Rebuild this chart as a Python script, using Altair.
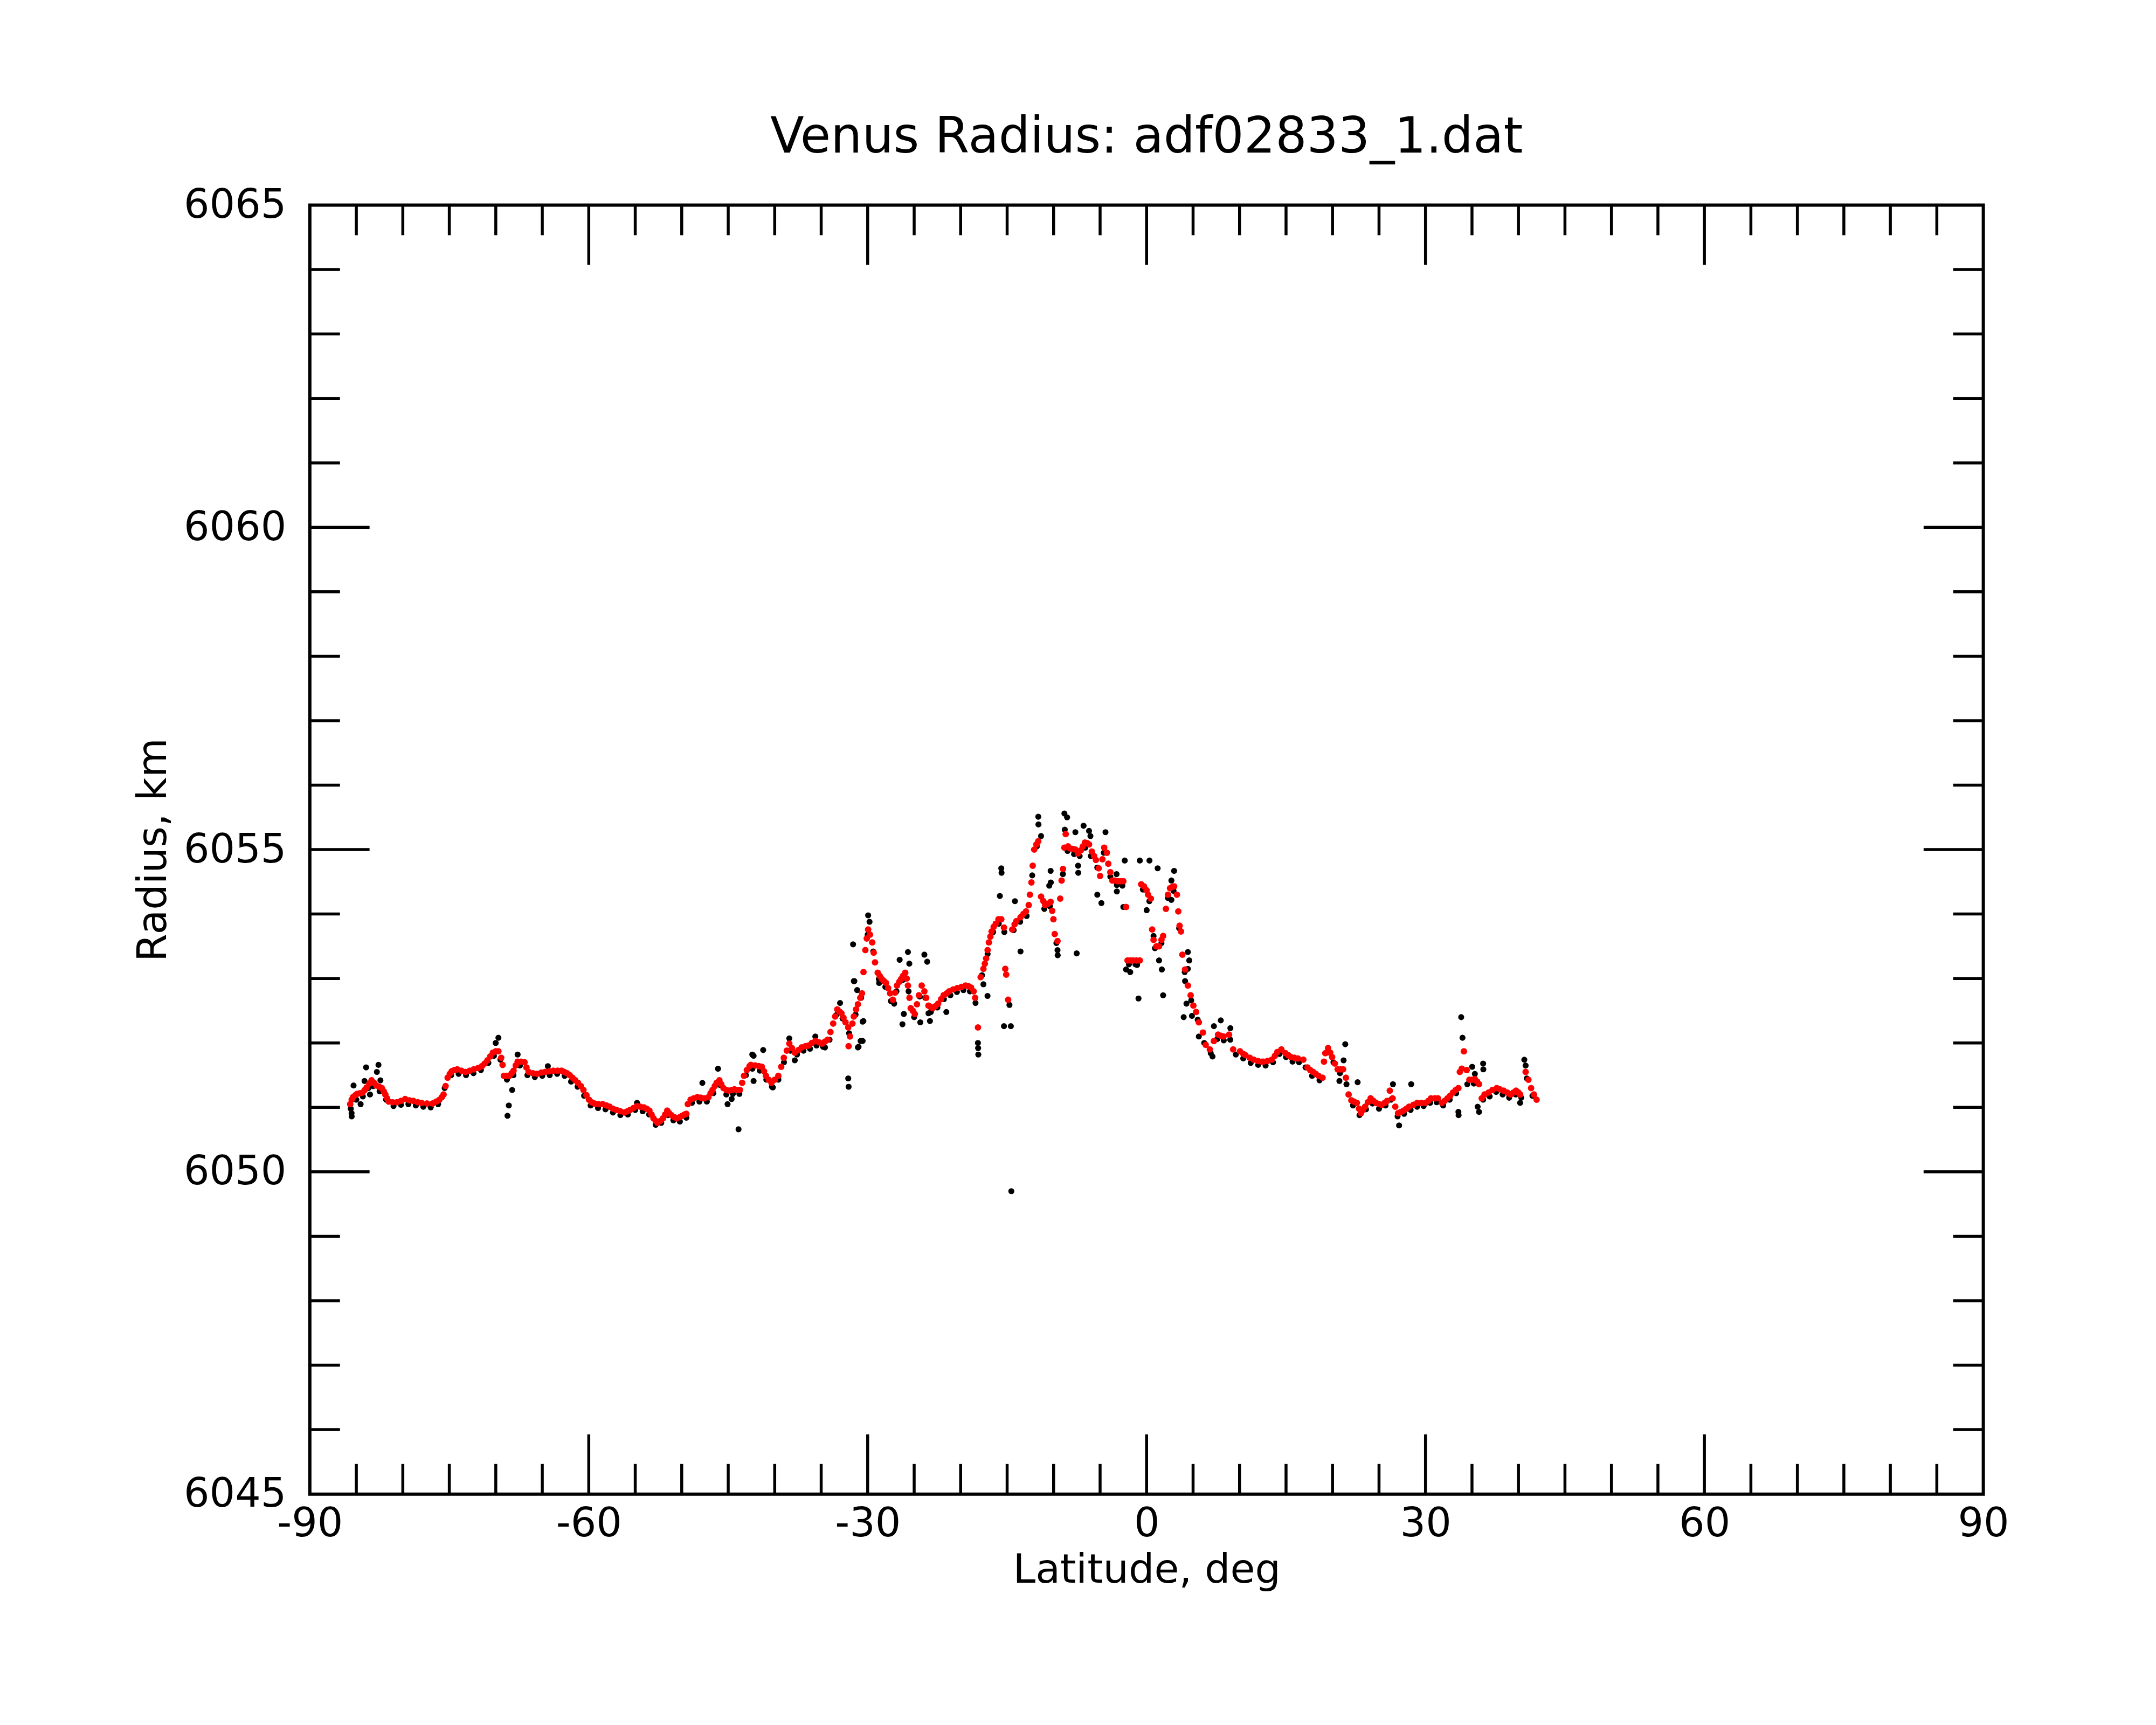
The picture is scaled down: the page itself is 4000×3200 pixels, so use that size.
import altair as alt
import pandas as pd

# ---------------- data ----------------
# red (smoothed) series, (latitude deg, radius km)
red_south = [
    (-85.66, 6051.05), (-85.5, 6051.12), (-85.36, 6051.16), (-85.1, 6051.19), (-84.92, 6051.21),
    (-84.6, 6051.22), (-84.33, 6051.23), (-84.1, 6051.27), (-83.89, 6051.31), (-83.6, 6051.37),
    (-83.36, 6051.42), (-83.1, 6051.38), (-82.85, 6051.34), (-82.55, 6051.32), (-82.26, 6051.30),
    (-82.05, 6051.25), (-81.88, 6051.20), (-81.7, 6051.14), (-81.52, 6051.09), (-81.1, 6051.08),
    (-80.64, 6051.08), (-80.2, 6051.10), (-79.75, 6051.13), (-79.3, 6051.11), (-78.87, 6051.10),
    (-78.4, 6051.08), (-77.98, 6051.07), (-77.4, 6051.06), (-76.8, 6051.06), (-76.4, 6051.09),
    (-76.06, 6051.12), (-75.8, 6051.16), (-75.62, 6051.20), (-75.4, 6051.33), (-75.18, 6051.46),
    (-74.95, 6051.52), (-74.74, 6051.56), (-74.45, 6051.58), (-74.15, 6051.59), (-73.7, 6051.57),
    (-73.26, 6051.55), (-72.8, 6051.57), (-72.37, 6051.59), (-71.9, 6051.61), (-71.49, 6051.64),
    (-71.2, 6051.68), (-70.9, 6051.73), (-70.6, 6051.79), (-70.31, 6051.85), (-70.0, 6051.87),
    (-69.72, 6051.87), (-69.42, 6051.77), (-69.27, 6051.66), (-69.13, 6051.49), (-68.85, 6051.49),
    (-68.54, 6051.49), (-68.3, 6051.53), (-68.09, 6051.57), (-67.85, 6051.65), (-67.65, 6051.71),
    (-67.3, 6051.71), (-66.91, 6051.70), (-66.7, 6051.62), (-66.47, 6051.55), (-66.0, 6051.53),
    (-65.58, 6051.52), (-65.1, 6051.54), (-64.7, 6051.55), (-64.25, 6051.56), (-63.81, 6051.57),
    (-63.35, 6051.57), (-62.93, 6051.57), (-62.64, 6051.55), (-62.34, 6051.53), (-62.05, 6051.50),
    (-61.75, 6051.46), (-61.45, 6051.42), (-61.16, 6051.38), (-60.85, 6051.33), (-60.57, 6051.27),
    (-60.25, 6051.19), (-59.98, 6051.12), (-59.7, 6051.08), (-59.39, 6051.06), (-58.95, 6051.05),
    (-58.5, 6051.05), (-58.1, 6051.03), (-57.76, 6051.01), (-57.4, 6050.98), (-57.02, 6050.96),
    (-56.6, 6050.94), (-56.14, 6050.92), (-55.85, 6050.94), (-55.55, 6050.96), (-55.2, 6050.99),
    (-54.81, 6051.02), (-54.45, 6051.01), (-54.07, 6051.00), (-53.78, 6050.98), (-53.48, 6050.95),
    (-53.25, 6050.89), (-53.04, 6050.83), (-52.8, 6050.79), (-52.6, 6050.76), (-52.3, 6050.79),
    (-52.01, 6050.83), (-51.78, 6050.89), (-51.56, 6050.95), (-51.35, 6050.91), (-51.12, 6050.88),
    (-50.8, 6050.85), (-50.53, 6050.83), (-50.2, 6050.85), (-49.94, 6050.87), (-49.7, 6050.89),
    (-49.5, 6050.90), (-49.35, 6051.05), (-49.05, 6051.12), (-48.7, 6051.14), (-48.32, 6051.16),
    (-47.95, 6051.15), (-47.58, 6051.14), (-47.13, 6051.16), (-46.9, 6051.22), (-46.69, 6051.27),
    (-46.45, 6051.33), (-46.25, 6051.38), (-45.95, 6051.42), (-45.75, 6051.36), (-45.51, 6051.30),
    (-45.2, 6051.27), (-44.92, 6051.26), (-44.6, 6051.27), (-44.33, 6051.28), (-44.0, 6051.27),
    (-43.74, 6051.27), (-43.5, 6051.38), (-43.3, 6051.49), (-43.0, 6051.58), (-42.71, 6051.64),
]
red_mid_south = [
    (-42.56, 6051.66), (-42.1, 6051.65), (-41.7, 6051.64), (-41.38, 6051.63), (-41.15, 6051.56),
    (-40.94, 6051.49), (-40.65, 6051.43), (-40.35, 6051.38), (-40.0, 6051.43), (-39.61, 6051.49),
    (-39.3, 6051.63), (-39.02, 6051.77), (-38.7, 6051.88), (-38.43, 6051.99), (-38.15, 6051.92),
    (-37.84, 6051.85), (-37.45, 6051.89), (-37.1, 6051.93), (-36.7, 6051.95), (-36.36, 6051.96),
    (-36.0, 6052.00), (-35.63, 6052.03), (-35.25, 6052.01), (-34.89, 6051.99), (-34.6, 6052.02),
    (-34.3, 6052.05), (-34.0, 6052.17), (-33.71, 6052.30), (-33.5, 6052.41), (-33.27, 6052.52),
    (-33.05, 6052.49), (-32.82, 6052.46), (-32.6, 6052.39), (-32.38, 6052.32), (-32.09, 6052.24),
    (-32.05, 6051.95), (-31.9, 6052.10), (-31.64, 6052.30), (-31.49, 6052.41), (-31.25, 6052.52),
    (-31.05, 6052.60), (-30.8, 6052.70), (-30.61, 6052.77),
]
red_equator = [
    (-30.45, 6053.10), (-30.25, 6053.44), (-30.1, 6053.62), (-29.95, 6053.76), (-29.75, 6053.68),
    (-29.51, 6053.56), (-29.35, 6053.40), (-29.21, 6053.25), (-28.92, 6053.09), (-28.7, 6053.04),
    (-28.47, 6052.99), (-28.25, 6052.96), (-28.03, 6052.93), (-27.8, 6052.85), (-27.59, 6052.77),
    (-27.29, 6052.67), (-27.05, 6052.78), (-26.85, 6052.89), (-26.6, 6052.95), (-26.41, 6052.99),
    (-26.2, 6053.04), (-25.96, 6053.09), (-25.8, 6053.00), (-25.67, 6052.89), (-25.5, 6052.70),
    (-25.37, 6052.54), (-25.15, 6052.50), (-24.93, 6052.45), (-24.7, 6052.60), (-24.49, 6052.74),
    (-24.19, 6052.89), (-23.9, 6052.80), (-23.7, 6052.70), (-23.46, 6052.58), (-23.25, 6052.56),
    (-23.01, 6052.54), (-22.7, 6052.57), (-22.42, 6052.61), (-22.1, 6052.68), (-21.83, 6052.74),
    (-21.5, 6052.77), (-21.24, 6052.80), (-20.8, 6052.83), (-20.36, 6052.85), (-19.9, 6052.87),
    (-19.47, 6052.89), (-19.15, 6052.88), (-18.88, 6052.86), (-18.6, 6052.80), (-18.44, 6052.70),
    (-18.14, 6052.24), (-17.85, 6053.02), (-17.55, 6053.15), (-17.4, 6053.23), (-17.26, 6053.31),
    (-17.1, 6053.44), (-16.96, 6053.56), (-16.8, 6053.65), (-16.67, 6053.73), (-16.45, 6053.80),
    (-16.22, 6053.85), (-15.93, 6053.92), (-15.63, 6053.92), (-15.34, 6053.79), (-15.2, 6053.15),
    (-15.1, 6053.06), (-14.89, 6052.67), (-14.45, 6053.76), (-14.2, 6053.84), (-14.01, 6053.89),
    (-13.56, 6053.95), (-13.25, 6054.00), (-12.97, 6054.04), (-12.68, 6054.14), (-12.55, 6054.30),
    (-12.39, 6054.49), (-12.25, 6054.75), (-12.09, 6055.00), (-11.85, 6055.08), (-11.65, 6055.13),
    (-11.35, 6054.27), (-11.1, 6054.20), (-10.91, 6054.14), (-10.6, 6054.16), (-10.32, 6054.19),
    (-10.15, 6054.05), (-10.02, 6053.92), (-9.88, 6053.69), (-9.58, 6053.58), (-9.29, 6054.24),
    (-9.14, 6054.52), (-8.99, 6054.70), (-8.84, 6055.03), (-8.7, 6055.24), (-8.45, 6055.05),
    (-8.25, 6055.02), (-7.95, 6055.01), (-7.66, 6055.00), (-7.37, 6054.94), (-7.07, 6054.99),
    (-6.85, 6055.05), (-6.63, 6055.11), (-6.4, 6055.10), (-6.19, 6055.08), (-5.89, 6054.97),
    (-5.65, 6054.90), (-5.45, 6054.84), (-5.15, 6054.71), (-5.0, 6054.59), (-4.75, 6054.85),
    (-4.56, 6055.03), (-4.27, 6054.95), (-4.12, 6054.78), (-3.9, 6054.65), (-3.68, 6054.52),
    (-3.4, 6054.52), (-3.09, 6054.51), (-2.8, 6054.51), (-2.5, 6054.51), (-2.2, 6054.11),
    (-2.05, 6053.28), (-1.75, 6053.28), (-1.46, 6053.28), (-1.1, 6053.28), (-0.73, 6053.28),
    (-0.58, 6054.46), (-0.28, 6054.43), (0.0, 6054.37), (0.16, 6054.30), (0.46, 6054.24),
    (0.6, 6053.76), (0.75, 6053.60), (1.05, 6053.50), (1.34, 6053.50), (1.6, 6053.60),
    (1.78, 6053.66), (2.08, 6054.08), (2.3, 6054.30), (2.52, 6054.40), (2.75, 6054.42),
    (2.96, 6054.43), (3.26, 6054.30), (3.41, 6054.04), (3.55, 6053.82), (3.7, 6053.73),
    (3.85, 6053.37), (4.14, 6053.14), (4.44, 6052.89), (4.74, 6052.74), (5.03, 6052.58),
    (5.33, 6052.48), (5.62, 6052.32), (6.06, 6052.16), (6.36, 6051.97), (6.8, 6051.90),
    (7.24, 6052.03), (7.69, 6052.13), (8.0, 6052.11), (8.28, 6052.10), (8.87, 6052.13),
    (9.31, 6051.90), (10.05, 6051.87), (10.4, 6051.83), (10.64, 6051.81), (11.1, 6051.77),
    (11.52, 6051.74), (12.0, 6051.72), (12.41, 6051.71),
]
red_north = [
    (12.58, 6051.71), (13.0, 6051.72), (13.47, 6051.74), (13.8, 6051.80), (14.06, 6051.86),
    (14.5, 6051.90), (14.94, 6051.84), (15.25, 6051.81), (15.53, 6051.78), (15.9, 6051.77),
    (16.27, 6051.76), (16.86, 6051.74), (17.31, 6051.62), (17.6, 6051.58), (17.9, 6051.55),
    (18.2, 6051.52), (18.49, 6051.49), (18.93, 6051.46), (19.08, 6051.71), (19.22, 6051.84),
    (19.52, 6051.92), (19.75, 6051.85), (19.96, 6051.78), (20.25, 6051.68), (20.55, 6051.59),
    (20.85, 6051.59), (21.14, 6051.59), (21.44, 6051.46), (21.73, 6051.20), (22.03, 6051.11),
    (22.3, 6051.09), (22.62, 6051.07), (22.85, 6050.98), (23.06, 6050.91), (23.28, 6050.96),
    (23.5, 6051.01), (23.8, 6051.08), (24.1, 6051.14), (24.4, 6051.10), (24.69, 6051.07),
    (25.0, 6051.05), (25.28, 6051.04), (25.6, 6051.07), (25.87, 6051.10), (26.16, 6051.26),
    (26.46, 6051.14), (26.75, 6051.01), (27.05, 6050.91), (27.35, 6050.93), (27.64, 6050.95),
    (27.95, 6050.98), (28.23, 6051.01), (28.7, 6051.04), (29.11, 6051.07), (29.55, 6051.07),
    (30.0, 6051.07), (30.3, 6051.10), (30.59, 6051.14), (31.0, 6051.14), (31.33, 6051.14),
    (31.77, 6051.07), (32.05, 6051.10), (32.36, 6051.14), (32.65, 6051.18), (32.95, 6051.23),
    (33.25, 6051.27), (33.54, 6051.30), (33.69, 6051.55), (33.9, 6051.60), (34.13, 6051.87),
    (34.43, 6051.58), (34.72, 6051.43), (35.0, 6051.43), (35.31, 6051.44), (35.55, 6051.40),
    (35.76, 6051.36), (36.05, 6051.14), (36.35, 6051.20), (36.79, 6051.23), (37.2, 6051.27),
    (37.67, 6051.30), (38.0, 6051.28), (38.41, 6051.26), (38.8, 6051.23), (39.15, 6051.20),
    (39.45, 6051.23), (39.74, 6051.26), (40.0, 6051.23), (40.18, 6051.20), (40.77, 6051.55),
    (41.07, 6051.43), (41.36, 6051.30), (41.66, 6051.20), (41.95, 6051.12),
]

# black (raw) series: the bulk that sits just under the red trace
black_trace = [
    (-85.6, 6050.98), (-85.0, 6051.12), (-84.3, 6051.17), (-83.7, 6051.30), (-83.2, 6051.33),
    (-82.5, 6051.25), (-81.8, 6051.12), (-81.0, 6051.02), (-80.2, 6051.04), (-79.4, 6051.05),
    (-78.6, 6051.03), (-77.8, 6051.01), (-77.0, 6051.00), (-76.2, 6051.05), (-75.5, 6051.30),
    (-74.8, 6051.50), (-74.0, 6051.52), (-73.2, 6051.50), (-72.4, 6051.53), (-71.6, 6051.58),
    (-70.8, 6051.69), (-70.2, 6051.80), (-69.5, 6051.74), (-68.8, 6051.43), (-68.1, 6051.50),
    (-67.4, 6051.65), (-66.6, 6051.50), (-65.8, 6051.47), (-65.0, 6051.49), (-64.2, 6051.50),
    (-63.4, 6051.52), (-62.6, 6051.49), (-61.9, 6051.40), (-61.2, 6051.32), (-60.5, 6051.18),
    (-59.8, 6051.03), (-59.0, 6050.99), (-58.2, 6050.97), (-57.4, 6050.92), (-56.6, 6050.88),
    (-55.8, 6050.89), (-55.0, 6050.96), (-54.2, 6050.94), (-53.5, 6050.89), (-52.8, 6050.73),
    (-52.2, 6050.76), (-51.5, 6050.88), (-50.9, 6050.80), (-50.2, 6050.78), (-49.5, 6050.84),
    (-48.9, 6051.07), (-48.1, 6051.09), (-47.3, 6051.09), (-46.6, 6051.22), (-45.9, 6051.35),
    (-45.2, 6051.20), (-44.5, 6051.21), (-43.8, 6051.21), (-43.1, 6051.50), (-42.4, 6051.60),
    (-41.6, 6051.57), (-40.9, 6051.43), (-40.3, 6051.32), (-39.6, 6051.43), (-39.0, 6051.70),
    (-38.3, 6051.88), (-37.6, 6051.82), (-36.9, 6051.88), (-36.2, 6051.91), (-35.5, 6051.96),
    (-34.8, 6051.94), (-34.1, 6052.05), (-33.4, 6052.43), (-32.7, 6052.38), (-32.0, 6052.15),
    (-31.3, 6052.44), (-30.7, 6052.70), (-30.0, 6053.68), (-29.4, 6053.42), (-28.8, 6052.99),
    (-28.1, 6052.87), (-27.5, 6052.65), (-26.9, 6052.80), (-26.2, 6052.98), (-25.6, 6052.80),
    (-25.0, 6052.40), (-24.4, 6052.72), (-23.8, 6052.70), (-23.2, 6052.48), (-22.5, 6052.55),
    (-21.8, 6052.68), (-21.1, 6052.74), (-20.4, 6052.79), (-19.7, 6052.82), (-19.0, 6052.80),
    (-18.4, 6052.62), (-17.7, 6053.05), (-17.1, 6053.38), (-16.5, 6053.72), (-15.9, 6053.85),
    (-15.3, 6053.72), (-14.3, 6053.75), (-13.6, 6053.88), (-12.9, 6053.97), (-12.3, 6054.60),
    (-11.8, 6055.05), (-11.0, 6054.08), (-10.4, 6054.12), (-9.7, 6053.55), (-9.0, 6054.62),
    (-8.5, 6054.98), (-7.8, 6054.93), (-7.2, 6054.90), (-6.6, 6055.03), (-6.0, 6054.90),
    (-5.3, 6054.72), (-4.6, 6054.95), (-3.9, 6054.58), (-3.2, 6054.45), (-2.6, 6054.44),
    (-1.9, 6053.22), (-1.2, 6053.22), (-0.4, 6054.38), (0.3, 6054.20), (0.9, 6053.47),
    (1.6, 6053.55), (2.3, 6054.25), (2.9, 6054.36), (3.5, 6053.78), (4.1, 6053.10),
    (4.8, 6052.66), (5.5, 6052.36), (6.2, 6052.00), (6.9, 6051.84), (7.6, 6052.06),
    (8.3, 6052.04), (9.0, 6052.05), (9.6, 6051.82), (10.4, 6051.76), (11.2, 6051.69),
    (12.0, 6051.66), (12.8, 6051.65), (13.6, 6051.70), (14.3, 6051.83), (15.0, 6051.78),
    (15.7, 6051.71), (16.4, 6051.70), (17.1, 6051.62), (17.8, 6051.49), (18.6, 6051.42),
    (19.4, 6051.85), (20.1, 6051.70), (20.8, 6051.53), (21.5, 6051.36), (22.2, 6051.03),
    (22.9, 6050.88), (23.6, 6050.97), (24.3, 6051.06), (25.0, 6050.98), (25.7, 6051.03),
    (26.3, 6051.12), (27.0, 6050.86), (27.7, 6050.90), (28.4, 6050.96), (29.1, 6051.01),
    (29.8, 6051.02), (30.5, 6051.07), (31.2, 6051.08), (31.9, 6051.03), (32.6, 6051.12),
    (33.3, 6051.22), (34.5, 6051.36), (35.2, 6051.37), (36.2, 6051.12), (36.9, 6051.17),
    (37.6, 6051.24), (38.3, 6051.20), (39.0, 6051.15), (39.7, 6051.20), (40.3, 6051.15),
    (40.9, 6051.45), (41.5, 6051.18),
]
# black (raw) points scattered away from the trace
black_scatter = [
    (-85.51, 6050.91), (-85.5, 6050.86), (-85.3, 6051.34), (-84.54, 6051.05), (-84.12, 6051.41),
    (-83.95, 6051.62), (-83.53, 6051.20), (-82.79, 6051.55), (-82.62, 6051.66), (-82.41, 6051.42),
    (-69.72, 6052.08), (-70.01, 6052.00), (-68.24, 6051.27), (-68.6, 6051.03), (-68.74, 6050.87),
    (-67.65, 6051.82), (-64.4, 6051.64), (-54.81, 6051.07), (-47.78, 6051.38), (-46.1, 6051.60),
    (-45.07, 6051.05), (-43.89, 6050.66), (-42.41, 6051.82), (-44.63, 6051.13), (-42.27, 6051.41),
    (-42.27, 6051.80), (-41.24, 6051.89), (-40.2, 6051.31), (-38.43, 6052.07), (-37.84, 6051.73),
    (-35.63, 6052.10), (-34.59, 6051.93), (-32.97, 6052.62), (-32.09, 6051.45), (-32.05, 6051.32),
    (-30.76, 6052.03), (-31.05, 6051.93), (-30.46, 6052.34), (-31.49, 6052.96), (-31.57, 6053.53),
    (-31.43, 6052.96), (-31.13, 6052.82), (-30.54, 6052.33), (-30.54, 6052.03), (-30.98, 6051.94),
    (-29.95, 6053.98), (-29.8, 6053.88), (-28.77, 6052.93), (-27.15, 6052.61), (-26.56, 6053.29),
    (-26.26, 6052.29), (-26.11, 6052.45), (-25.67, 6053.41), (-25.52, 6053.23), (-23.9, 6053.37),
    (-23.6, 6053.26), (-24.34, 6052.32), (-23.46, 6052.46), (-23.3, 6052.34), (-21.54, 6052.48),
    (-18.14, 6052.00), (-18.12, 6051.92), (-18.1, 6051.82), (-17.11, 6052.73), (-17.55, 6052.91),
    (-15.78, 6054.28), (-15.63, 6054.71), (-15.6, 6054.64), (-15.34, 6052.26), (-14.75, 6052.59),
    (-14.6, 6052.26), (-14.16, 6054.20), (-13.56, 6053.42), (-14.55, 6049.70), (-11.65, 6055.51),
    (-11.63, 6055.39), (-11.35, 6055.21), (-10.32, 6054.67), (-10.3, 6054.49), (-10.47, 6054.44),
    (-9.58, 6053.44), (-9.56, 6053.36), (-8.84, 6055.56), (-8.55, 6055.50), (-8.8, 6055.31),
    (-7.66, 6055.27), (-7.52, 6053.39), (-7.37, 6054.75), (-7.35, 6054.64), (-6.78, 6055.37),
    (-6.19, 6055.29), (-6.04, 6055.21), (-5.3, 6054.30), (-4.86, 6054.17), (-4.42, 6055.27),
    (-3.23, 6054.62), (-3.2, 6054.35), (-2.35, 6054.83), (-2.5, 6054.11), (-2.2, 6053.14),
    (-1.76, 6053.10), (-1.02, 6053.21), (-0.73, 6054.83), (-0.87, 6052.69), (0.31, 6054.83),
    (0.01, 6054.06), (0.75, 6053.66), (1.19, 6054.71), (1.34, 6053.28), (1.64, 6053.14),
    (1.78, 6052.74), (2.67, 6054.52), (2.96, 6054.67), (2.67, 6054.22), (4.44, 6053.41),
    (4.59, 6053.28), (4.44, 6053.15), (4.14, 6052.96), (4.29, 6052.61), (3.99, 6052.40),
    (4.88, 6052.42), (5.62, 6052.10), (7.09, 6051.79), (7.24, 6052.26), (7.98, 6052.35),
    (9.01, 6052.23), (20.74, 6051.41), (21.19, 6051.73), (21.37, 6051.98), (22.7, 6051.39),
    (26.5, 6051.36), (27.16, 6050.72), (28.46, 6051.36), (33.84, 6052.40), (33.98, 6052.08),
    (33.54, 6050.93), (33.56, 6050.88), (35.02, 6051.63), (35.31, 6051.52), (36.2, 6051.68),
    (36.22, 6051.59), (35.61, 6051.01), (35.76, 6050.93), (40.63, 6051.74), (40.77, 6051.65),
    (40.18, 6051.07),
]

# axes
x_label_values = [-90, -60, -30, 0, 30, 60, 90]
x_major_ticks = [-60, -30, 0, 30, 60]
x_minor_ticks = [-85, -80, -75, -70, -65, -55, -50, -45, -40, -35, -25, -20, -15, -10, -5,
                 5, 10, 15, 20, 25, 35, 40, 45, 50, 55, 65, 70, 75, 80, 85]
y_label_values = [6045, 6050, 6055, 6060, 6065]
y_major_ticks = [6050, 6055, 6060]
y_minor_ticks = [6046, 6047, 6048, 6049, 6051, 6052, 6053, 6054,
                 6056, 6057, 6058, 6059, 6061, 6062, 6063, 6064]

title_text = "Venus Radius: adf02833_1.dat"
x_title = "Latitude, deg"
y_title = "Radius, km"

# ---------------- chart ----------------
W, H = 3111, 2396
MAJOR, MINOR = 111, 56
FONT = "DejaVu Sans"

red_df = pd.DataFrame(red_south + red_mid_south + red_equator + red_north, columns=["lat", "r"])
blk_df = pd.DataFrame(black_trace + black_scatter, columns=["lat", "r"])

x_scale = alt.Scale(domain=[-90, 90], nice=False, zero=False)
y_scale = alt.Scale(domain=[6045, 6065], nice=False, zero=False)

x_axis = alt.Axis(values=x_label_values, labelExpr="'' + datum.value", grid=False, ticks=False,
                  tickSize=0, domain=False, labelFont=FONT, labelFontSize=75, labelColor="black",
                  labelPadding=19, labelFlush=False, labelOverlap=False, labelLimit=0,
                  titleFont=FONT, titleFontSize=75, titleFontWeight="normal", titleColor="black",
                  titlePadding=12)
y_axis = alt.Axis(values=y_label_values, labelExpr="'' + datum.value", grid=False, ticks=False,
                  tickSize=0, domain=False, labelFont=FONT, labelFontSize=75, labelColor="black",
                  labelPadding=44, labelFlush=False, labelOverlap=False, labelLimit=0,
                  titleFont=FONT, titleFontSize=75, titleFontWeight="normal", titleColor="black",
                  titlePadding=52)

X = alt.X("lat:Q", scale=x_scale, axis=x_axis, title=x_title)
Y = alt.Y("r:Q", scale=y_scale, axis=y_axis, title=y_title)

black_pts = alt.Chart(blk_df).mark_circle(color="black", size=125, opacity=1).encode(x=X, y=Y)
red_pts = alt.Chart(red_df).mark_circle(color="#ff0000", size=145, opacity=1).encode(x=X, y=Y)


def x_ticks(vals, length, top):
    y0 = 0 if top else H
    y1 = length if top else H - length
    return alt.Chart(pd.DataFrame({"lat": vals})).mark_rule(color="black", strokeWidth=5.5).encode(
        x=X, y=alt.value(y0), y2=alt.value(y1))


def y_ticks(vals, length, right):
    x0 = W if right else 0
    x1 = W - length if right else length
    return alt.Chart(pd.DataFrame({"r": vals})).mark_rule(color="black", strokeWidth=5.5).encode(
        y=Y, x=alt.value(x0), x2=alt.value(x1))


tick_layers = [
    x_ticks(x_major_ticks, MAJOR, False), x_ticks(x_major_ticks, MAJOR, True),
    x_ticks(x_minor_ticks, MINOR, False), x_ticks(x_minor_ticks, MINOR, True),
    y_ticks(y_major_ticks, MAJOR, False), y_ticks(y_major_ticks, MAJOR, True),
    y_ticks(y_minor_ticks, MINOR, False), y_ticks(y_minor_ticks, MINOR, True),
]

chart = alt.layer(black_pts, red_pts, *tick_layers).properties(
    width=W, height=H,
    title=alt.TitleParams(title_text, font=FONT, fontSize=92, fontWeight="normal", color="black",
                          anchor="middle", frame="group", baseline="alphabetic", offset=-31),
    autosize=alt.AutoSizeParams(type="none"),
    padding={"left": 568, "top": 370, "right": 313, "bottom": 426},
    background="white",
).configure_view(stroke="black", strokeWidth=6)

chart.save("out.html", embed_options={"renderer": "svg", "actions": False})
